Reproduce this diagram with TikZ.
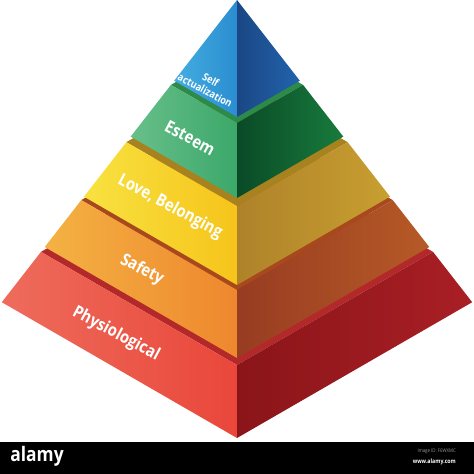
\documentclass[tikz,border=0pt]{standalone}
\usepackage{fontspec}
\newfontfamily\tierfont{Open Sans}[FakeStretch=0.87]
\definecolor{physlo}{HTML}{EE6C5C}
\definecolor{physli}{HTML}{E9473A}
\definecolor{physri}{HTML}{8A1519}
\definecolor{physro}{HTML}{A91F25}
\definecolor{phystop}{HTML}{B3292A}
\definecolor{safelo}{HTML}{F4B243}
\definecolor{safeli}{HTML}{EE872E}
\definecolor{saferi}{HTML}{983C22}
\definecolor{safero}{HTML}{B65A27}
\definecolor{safetop}{HTML}{A8491D}
\definecolor{lovelo}{HTML}{F8E240}
\definecolor{loveli}{HTML}{F6C41B}
\definecolor{loveri}{HTML}{AF822A}
\definecolor{lovero}{HTML}{C89F30}
\definecolor{lovetop}{HTML}{A7821F}
\definecolor{estelo}{HTML}{68BF89}
\definecolor{esteli}{HTML}{3BA86A}
\definecolor{esteri}{HTML}{0A4A27}
\definecolor{estero}{HTML}{187B3C}
\definecolor{estetop}{HTML}{2E8A48}
\definecolor{selflo}{HTML}{45AEE1}
\definecolor{selfli}{HTML}{2A8DD0}
\definecolor{selfri}{HTML}{1B4785}
\definecolor{selfro}{HTML}{2163AC}
\definecolor{selftop}{HTML}{2163AC}
\begin{document}
\begin{tikzpicture}[x=1pt, y=-1pt,
   tierlabel/.style={text=white, inner sep=0pt, rotate=-28,
      font=\tierfont\bfseries\fontsize{17}{17}\selectfont},
   smalllabel/.style={tierlabel, align=center,
      font=\tierfont\bfseries\fontsize{10.5}{12}\selectfont},
   barlabel/.style={inner sep=0pt, anchor=east}]
\useasboundingbox (0,0) rectangle (474,474);

% tiers from the bottom up: front bottom y / front top y / colour prefix
\foreach \yb/\yt/\lvl in {438/365/phys, 358/290/safe, 285/206/love, 198/123/este, 117/0/self} {
  \fill[fill=\lvl top] ({237-0.537*\yt},{0.690*\yt}) -- (237,\yt)
     -- ({237+0.537*\yt},{0.690*\yt}) -- (237,{0.380*\yt}) -- cycle;
  \shade[left color=\lvl lo, right color=\lvl li]
     ({237-0.537*\yb},{0.690*\yb}) -- (237,\yb) -- (237,\yt)
     -- ({237-0.537*\yt},{0.690*\yt}) -- cycle;
  \shade[left color=\lvl ri, right color=\lvl ro]
     (237,\yb) -- ({237+0.537*\yb},{0.690*\yb})
     -- ({237+0.537*\yt},{0.690*\yt}) -- (237,\yt) -- cycle;
}

\node[tierlabel] (physio) at (116,334) {Physiological};
\node[tierlabel] (safety) at (142,270) {Safety};
\node[tierlabel] (belong) at (170,207) {Love, Belonging};
\node[tierlabel] (esteem) at (190,138) {Esteem};
\node[smalllabel] (selfact) at (208,85) {Self\\actualization};

% stock bar
\fill[black] (0,442) rectangle (474,474);
\node[inner sep=0pt, text=white, font=\tierfont\bfseries\fontsize{20}{20}\selectfont]
   (brand) at (37,456) {alamy};
\node[barlabel, text=gray!80, font=\tierfont\fontsize{5}{5}\selectfont]
   (imgid) at (456,451) {Image ID: F6WXMC};
\node[barlabel, text=white, font=\tierfont\bfseries\fontsize{6}{6}\selectfont]
   (site) at (456,462) {www.alamy.com};
\end{tikzpicture}
\end{document}
